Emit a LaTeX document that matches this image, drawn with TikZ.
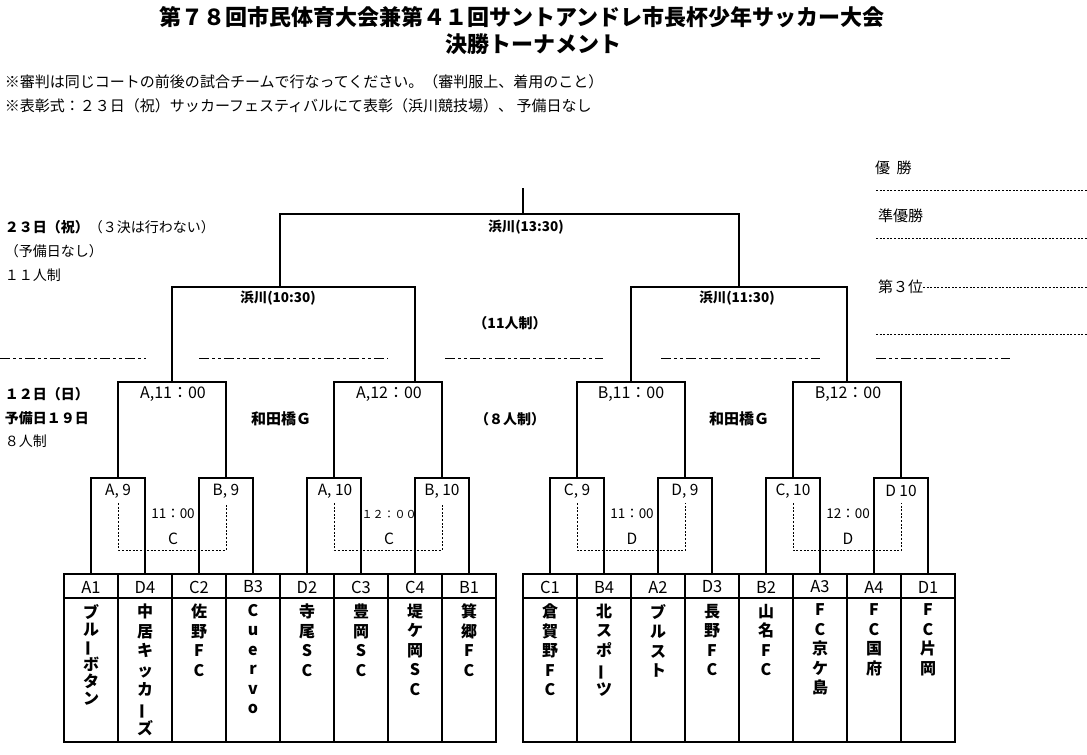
\documentclass[tikz,border=0pt]{standalone}
\usepackage{fontspec}
\setmainfont{Noto Sans CJK JP}
\newcommand{\myfs}[2]{\fontsize{#1}{#2}\selectfont}
\newcommand{\chvb}{\rotatebox[origin=c]{90}{ー}}
\tikzset{
  br/.style={line width=1.1pt, line join=miter},
  dd/.style={line width=0.9pt, dash pattern=on 10pt off 3pt on 3pt off 3pt on 3pt off 3pt},
  dt/.style={line width=0.9pt, dash pattern=on 2pt off 1.6pt},
  txt/.style={inner sep=0pt, outer sep=0pt},
  ttl/.style={txt, font=\myfs{22}{26}\bfseries},
  note/.style={txt, anchor=west, font=\myfs{15}{18}},
  lab/.style={txt, anchor=west, font=\myfs{14}{17}},
  blab/.style={txt, anchor=west, font=\myfs{14}{17}\bfseries},
  venue/.style={txt, font=\myfs{13.5}{16}\bfseries},
  mid/.style={txt, font=\myfs{14}{17}\bfseries},
  qlab/.style={txt, font=\myfs{16}{19}},
  rlab/.style={txt, font=\myfs{15.5}{18}},
  tlab/.style={txt, font=\myfs{13.5}{16}},
  clab/.style={txt, font=\myfs{15.5}{18}},
  hdr/.style={txt, font=\myfs{16.5}{19}},
  team/.style={txt, anchor=north, align=center, font=\myfs{16}{19.5}\bfseries},
  rank/.style={txt, anchor=west, font=\myfs{15}{18}}
}
\begin{document}
\begin{tikzpicture}[x=1pt,y=-1pt]
\useasboundingbox (0,0) rectangle (1087,755);

% titles
\node[ttl] (t1) at (522,17) {第７８回市民体育大会兼第４１回サントアンドレ市長杯少年サッカー大会};
\node[ttl] (t2) at (533,44) {決勝トーナメント};
\node[note] (n1) at (5,82) {※審判は同じコートの前後の試合チームで行なってください。（審判服上、着用のこと）};
\node[note] (n2) at (5,106) {※表彰式：２３日（祝）サッカーフェスティバルにて表彰（浜川競技場）、 予備日なし};

% left labels
\node[lab] (l1) at (5,227) {{\bfseries ２３日（祝）}（３決は行わない）};
\node[lab] (l2) at (5,251) {（予備日なし）};
\node[lab] (l3) at (5,275) {１１人制};
\node[blab] (l4) at (5,394) {１２日（日）};
\node[blab] (l5) at (5,418) {予備日１９日};
\node[lab] (l6) at (5,441) {８人制};

% ranking
\node[rank] (r1) at (875,168) {優\hspace{0.45em}勝};
\node[rank] (r2) at (878,216) {準優勝};
\node[rank] (r3) at (878,287) {第３位};
\draw[dt] (876,190) -- (1087,190);
\draw[dt] (876,238) -- (1087,238);
\draw[dt] (r3.east) -- (1087,287);
\draw[dt] (876,334) -- (1087,334);

% dash-dot separators
\draw[dd] (0,358) -- (146,358);
\draw[dd] (199,358) -- (388,358);
\draw[dd] (445,358) -- (603,358);
\draw[dd] (661,358) -- (820,358);
\draw[dd] (876,358) -- (1010,358);

% final
\draw[br] (523,188) -- (523,214);
\draw[br] (280,287) -- (280,214) -- (739,214) -- (739,287);
\node[venue] (vf) at (526,227) {浜川(13:30)};

% semis
\draw[br] (172,382) -- (172,287) -- (415,287) -- (415,382);
\draw[br] (631,382) -- (631,287) -- (847,287) -- (847,382);
\node[venue] (vs1) at (278,298) {浜川(10:30)};
\node[venue] (vs2) at (737,298) {浜川(11:30)};

\node[mid] (m1) at (510,323) {（11人制）};
\node[mid] (m2) at (510,419) {（８人制）};
\node[mid, font=\myfs{15}{18}\bfseries] (g1) at (281,419) {和田橋Ｇ};
\node[mid, font=\myfs{15}{18}\bfseries] (g2) at (739,419) {和田橋Ｇ};

% quarters
\foreach \a/\b in {118/226, 334/442, 577/685, 793/901}
  \draw[br] (\a,478) -- (\a,382) -- (\b,382) -- (\b,478);
\node[qlab] (q1) at (173,394) {A,11：00};
\node[qlab] (q2) at (389,394) {A,12：00};
\node[qlab] (q3) at (631,394) {B,11：00};
\node[qlab] (q4) at (848,394) {B,12：00};

% round of 16
\foreach \a/\b in {91/145, 199/253, 307/361, 415/469, 550/604, 658/712, 766/820, 874/928}
  \draw[br] (\a,574) -- (\a,478) -- (\b,478) -- (\b,574);

\node[rlab] (e1) at (118,491) {A, 9};
\node[rlab] (e2) at (226,491) {B, 9};
\node[rlab] (e3) at (335,491) {A, 10};
\node[rlab] (e4) at (442,491) {B, 10};
\node[rlab] (e5) at (577,491) {C, 9};
\node[rlab] (e6) at (685,491) {D, 9};
\node[rlab] (e7) at (793,491) {C, 10};
\node[rlab] (e8) at (901,491) {D 10};

\foreach \a/\b in {118.5/226, 334.5/442, 577/685.5, 793/901.5}
  \draw[dt] (\a,503) -- (\a,550) -- (\b,550) -- (\b,503);

\node[tlab] (k1) at (173,514) {11：00};
\node[clab] (c1) at (173,539) {C};
\node[tlab, font=\myfs{11}{13}] (k2) at (389,514) {１２：００};
\node[clab] (c2) at (389,539) {C};
\node[tlab] (k3) at (632,514) {11：00};
\node[clab] (c3) at (632,539) {D};
\node[tlab] (k4) at (848,514) {12：00};
\node[clab] (c4) at (848,539) {D};

% tables
\draw[br] (64,574) rectangle (496,742);
\draw[br] (64,598) -- (496,598);
\foreach \x in {118,172,226,280,334,388,442} \draw[br] (\x,574) -- (\x,742);
\draw[br] (523,574) rectangle (955,742);
\draw[br] (523,598) -- (955,598);
\foreach \x in {577,631,685,739,793,847,901} \draw[br] (\x,574) -- (\x,742);

% headers
\node[hdr] (h1) at (91,587) {A1};
\node[hdr] (h2) at (145,587) {D4};
\node[hdr] (h3) at (199,587) {C2};
\node[hdr] (h4) at (253,587) {B3};
\node[hdr] (h5) at (307,587) {D2};
\node[hdr] (h6) at (361,587) {C3};
\node[hdr] (h7) at (415,587) {C4};
\node[hdr] (h8) at (469,587) {B1};
\node[hdr] (h9) at (550,587) {C1};
\node[hdr] (h10) at (604,587) {B4};
\node[hdr] (h11) at (658,587) {A2};
\node[hdr] (h12) at (712,587) {D3};
\node[hdr] (h13) at (766,587) {B2};
\node[hdr] (h14) at (820,587) {A3};
\node[hdr] (h15) at (874,587) {A4};
\node[hdr] (h16) at (928,587) {D1};

% team names
\node[team, font=\myfs{16}{17}\bfseries] (tm1) at (91,604) {ブ\\ル\\\chvb\\ボ\\タ\\ン};
\node[team] (tm2) at (145,604) {中\\居\\キ\\ッ\\カ\\\chvb\\ズ};
\node[team] (tm3) at (199,604) {佐\\野\\F\\C};
\node[team] (tm4) at (253,604) {C\\u\\e\\r\\v\\o};
\node[team] (tm5) at (307,604) {寺\\尾\\S\\C};
\node[team] (tm6) at (361,604) {豊\\岡\\S\\C};
\node[team] (tm7) at (415,604) {堤\\ケ\\岡\\S\\C};
\node[team] (tm8) at (469,604) {箕\\郷\\F\\C};
\node[team] (tm9) at (550,604) {倉\\賀\\野\\F\\C};
\node[team] (tm10) at (604,604) {北\\ス\\ポ\\\chvb\\ツ};
\node[team] (tm11) at (658,604) {ブ\\ル\\ス\\ト};
\node[team] (tm12) at (712,604) {長\\野\\F\\C};
\node[team] (tm13) at (766,604) {山\\名\\F\\C};
\node[team] (tm14) at (820,604) {F\\C\\京\\ケ\\島};
\node[team] (tm15) at (874,604) {F\\C\\国\\府};
\node[team] (tm16) at (928,604) {F\\C\\片\\岡};
\end{tikzpicture}
\end{document}
